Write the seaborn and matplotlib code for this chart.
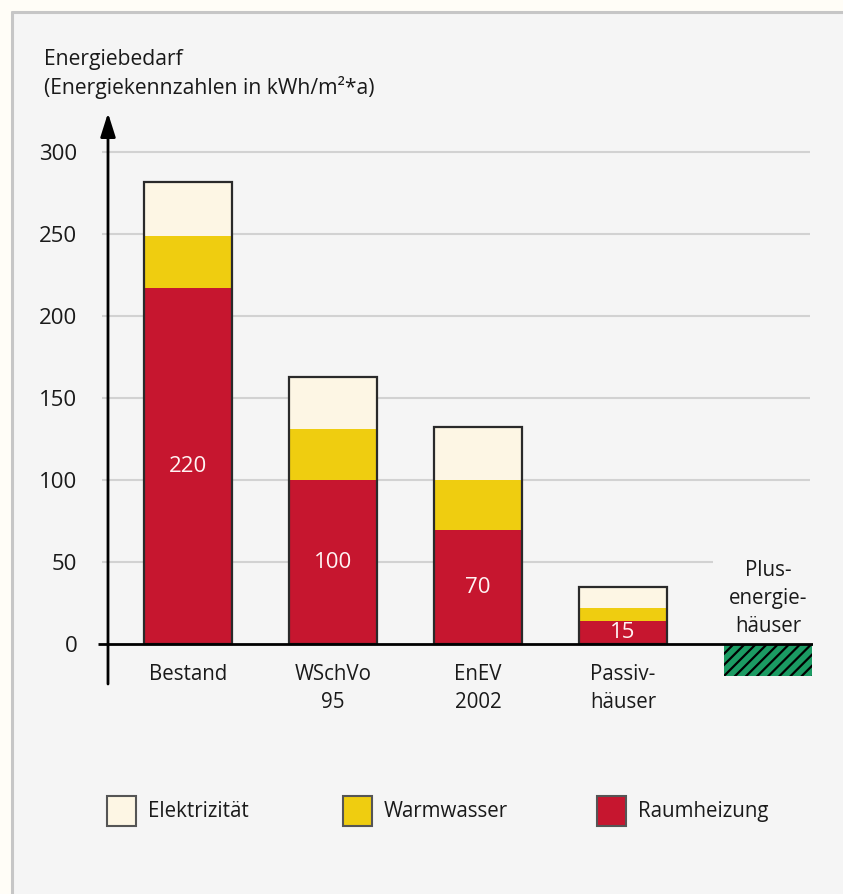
import matplotlib
matplotlib.use("Agg")
import matplotlib.pyplot as plt
from matplotlib.patches import Rectangle
from matplotlib.lines import Line2D
import seaborn as sns
import pandas as pd
import numpy as np

# ---- data ----
categories = ["Bestand", "WSchVo\n95", "EnEV\n2002", "Passiv-\nhäuser", "Plus-\nenergie-\nhäuser"]
raumheizung = [217, 100, 69.5, 14, 0]
warmwasser = [32, 31, 30.5, 8, 0]
elektrizitaet = [33, 32, 32.3, 13, 0]
value_labels = ["220", "100", "70", "15", ""]
plus_value = -19.5
series_names = ["Elektrizität", "Warmwasser", "Raumheizung"]
y_ticks = [0, 50, 100, 150, 200, 250, 300]
y_title = "Energiebedarf\n(Energiekennzahlen in kWh/m²*a)"

C_RED = "#c6162f"
C_YEL = "#efcd10"
C_CRM = "#fdf6e4"
C_GRN = "#1b9b63"
EDGE = "#2a2a2a"
TXT = "#1a1a1a"

sns.set_theme(style="white")
plt.rcParams["font.family"] = ["Open Sans", "DejaVu Sans"]
plt.rcParams["hatch.linewidth"] = 1.6
plt.rcParams["hatch.color"] = "black"

W, H = 843, 894
fig = plt.figure(figsize=(W / 100, H / 100), dpi=100, facecolor="#fffdf7")

# panel (border only on top and left)
fig.patches.append(Rectangle((12 / W, -0.5), 2.0, (H - 12) / H + 0.5, transform=fig.transFigure,
                             facecolor="#f5f5f5", edgecolor="none", zorder=-10))
fig.lines.append(Line2D([12 / W, 12 / W], [0, (H - 12) / H], transform=fig.transFigure,
                        color="#c6c6c6", linewidth=2.2))
fig.lines.append(Line2D([12 / W, 1], [(H - 12) / H, (H - 12) / H], transform=fig.transFigure,
                        color="#c6c6c6", linewidth=2.2))

ax_l, ax_r, ax_t, ax_b = 98, 813, 100, 700
ax = fig.add_axes([ax_l / W, (H - ax_b) / H, (ax_r - ax_l) / W, (ax_b - ax_t) / H])
ax.set_facecolor("none")

# px -> data helpers (layout only)
xpx = lambda p: (p - 188) / 145.0
ypx = lambda p: (644 - p) / 1.64

n_stack = 4
cats_stack = categories[:n_stack]
raum = np.array(raumheizung[:n_stack])
ww_top = raum + np.array(warmwasser[:n_stack])
tot = ww_top + np.array(elektrizitaet[:n_stack])

df = pd.DataFrame({"cat": cats_stack, "raum": raum, "ww": ww_top, "tot": tot})
bw = 88 / 145

# gridlines
for t in y_ticks[1:]:
    xmax = xpx(713) if t == 50 else xpx(810)
    ax.hlines(t, xpx(102), xmax, color="#d2d2d2", linewidth=1.5, zorder=0)

sns.barplot(data=df, x="cat", y="tot", order=categories, color=C_CRM, width=bw,
            saturation=1, linewidth=0, ax=ax, zorder=2)
sns.barplot(data=df, x="cat", y="ww", order=categories, color=C_YEL, width=bw,
            saturation=1, linewidth=0, ax=ax, zorder=3)
sns.barplot(data=df, x="cat", y="raum", order=categories, color=C_RED, width=bw,
            saturation=1, linewidth=0, ax=ax, zorder=4)
sns.barplot(data=df, x="cat", y="tot", order=categories, fill=False, edgecolor=EDGE, width=bw,
            linewidth=1.6, ax=ax, zorder=5)

dfp = pd.DataFrame({"cat": [categories[4]], "v": [plus_value]})
sns.barplot(data=dfp, x="cat", y="v", order=categories, color=C_GRN, width=bw,
            saturation=1, linewidth=0, ax=ax, zorder=2)
for p in ax.patches:
    if p.get_height() < 0:
        p.set_hatch("///")
        p.set_edgecolor("black")
        p.set_linewidth(0)

ax.set_xlim(xpx(ax_l), xpx(ax_r))
ax.set_ylim(ypx(ax_b), ypx(ax_t))

# zero line
ax.hlines(0, xpx(98), xpx(813), color="black", linewidth=2, zorder=6)
# y axis with arrow
ax.annotate("", xy=(xpx(108), ypx(113)), xytext=(xpx(108), ypx(684)),
            arrowprops=dict(arrowstyle="-|>,head_length=1.2,head_width=0.38", color="black",
                            linewidth=2, shrinkA=0, shrinkB=0), zorder=7)

for s in ax.spines.values():
    s.set_visible(False)
ax.set_xticks([])
ax.set_yticks(y_ticks)
ax.set_yticklabels([str(t) for t in y_ticks], fontsize=16, color=TXT)
ax.tick_params(axis="y", length=0, pad=15)
ax.set_xlabel("")
ax.set_ylabel("")

# category labels
for i, lab in enumerate(categories):
    lines = lab.split("\n")
    base = 680 if i < 4 else 632 - 28 * (len(lines) - 1)
    for k, ln in enumerate(lines):
        ax.text(i, ypx(base + 28 * k), ln, ha="center", va="baseline", fontsize=14.8, color=TXT)

# value labels
for i, (r, lab) in enumerate(zip(raumheizung, value_labels)):
    if lab:
        ax.text(i, r / 2, lab, ha="center", va="center", fontsize=16, color="#fff4f4", zorder=8)

# y title
for k, ln in enumerate(y_title.split("\n")):
    fig.text(44 / W, (H - (65 + 29 * k)) / H, ln, ha="left", va="baseline", fontsize=15.2, color=TXT)

# legend
leg_cols = [C_CRM, C_YEL, C_RED]
leg_x = [107, 343, 597]
for name, col, x0 in zip(series_names, leg_cols, leg_x):
    fig.patches.append(Rectangle((x0 / W, (H - 826) / H), 29 / W, 30 / H, transform=fig.transFigure,
                                 facecolor=col, edgecolor="#555555", linewidth=1.5))
    fig.text((x0 + 41) / W, (H - 817) / H, name, ha="left", va="baseline", fontsize=14.8, color=TXT)

fig.savefig("out.png", dpi=100, facecolor=fig.get_facecolor())
